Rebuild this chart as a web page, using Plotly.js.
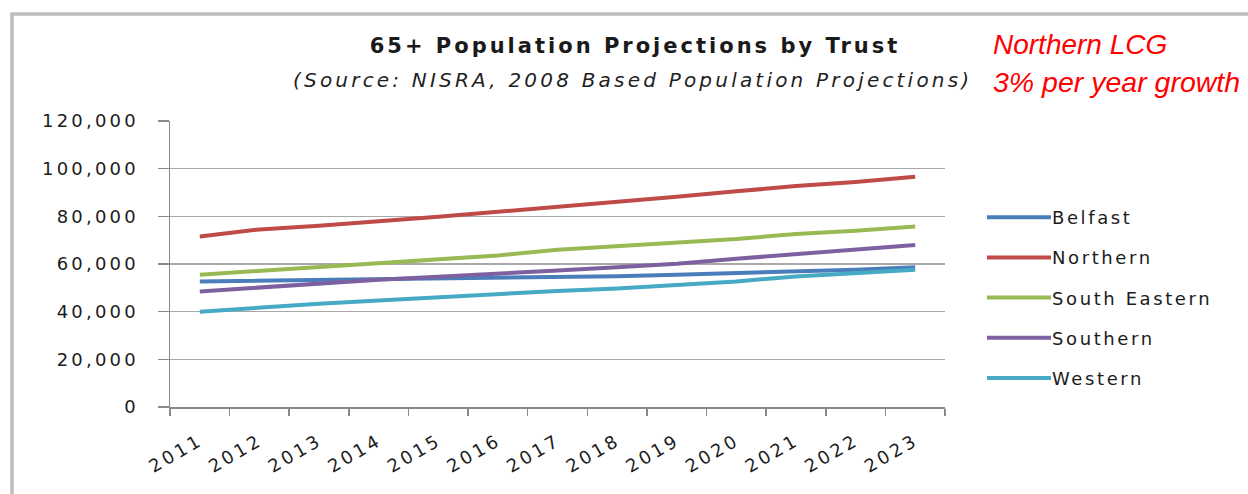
<!DOCTYPE html>
<html>
<head>
<meta charset="utf-8">
<script src="https://cdn.plot.ly/plotly-3.0.1.min.js"></script>
<style>
  html, body { margin: 0; padding: 0; background: #ffffff; }
  #chart { width: 1248px; height: 494px; }
  /* wide, spaced-out lettering for the chart texts */
  .xtick text, .ytick text { letter-spacing: 3.2px; }
  .gtitle { letter-spacing: 3px; }
  .legendtext { letter-spacing: 2.6px; }
  .annotation[data-index="0"] text { letter-spacing: 3.2px; }
</style>
</head>
<body>
<div id="chart"></div>
<script>
// Projected population aged 65+ by Health and Social Care Trust
const years = ['2011', '2012', '2013', '2014', '2015', '2016', '2017',
               '2018', '2019', '2020', '2021', '2022', '2023'];
const belfast      = [52700, 53000, 53400, 53700, 54000, 54200, 54300, 54900, 55500, 56200, 56700, 57600, 58600];
const northern     = [71500, 74500, 76000, 77800, 79800, 81900, 84000, 85700, 88200, 90500, 92700, 94400, 96600];
const southEastern = [55500, 57200, 58600, 60600, 62200, 63600, 66000, 67600, 69000, 70500, 72600, 73900, 75700];
const southern     = [48500, 50200, 51600, 53400, 54700, 56200, 57300, 58600, 60100, 62200, 64100, 66000, 68000];
const western      = [40000, 41800, 43300, 44700, 46100, 47200, 48700, 49700, 51100, 52700, 54800, 56200, 57600];

const trustNames = ['Belfast', 'Northern', 'South Eastern', 'Southern', 'Western'];
const trustValues = [belfast, northern, southEastern, southern, western];
const trustColors = ['#4a7ebb', '#be4b48', '#98b954', '#7d60a0', '#46aac5'];

const yTicks = [0, 20000, 40000, 60000, 80000, 100000, 120000];
const yTickLabels = ['0', '20,000', '40,000', '60,000', '80,000', '100,000', '120,000'];

const chartFont = 'DejaVu Sans, Verdana, sans-serif';
const textColor = '#1c1c1c';
const gridColor = '#a9a9a9';

const traces = trustNames.map((name, i) => ({
  type: 'scatter',
  mode: 'lines',
  name: name,
  legendgroup: name,
  x: years,
  y: trustValues[i],
  line: { color: trustColors[i], width: 4 },
  hoverinfo: 'x+y+name'
}));

const layout = {
  width: 1248,
  height: 494,
  margin: { l: 170, r: 303, t: 121, b: 87 },
  paper_bgcolor: '#ffffff',
  plot_bgcolor: '#ffffff',
  font: { family: chartFont, color: textColor, size: 17 },
  title: {
    text: '<b>65+ Population Projections by Trust</b>',
    font: { family: chartFont, size: 21, color: '#1a1a1a' },
    xref: 'container', x: 635 / 1248, xanchor: 'center',
    yref: 'container', y: 1 - 46 / 494, yanchor: 'middle'
  },
  xaxis: {
    type: 'category',
    range: [-0.5, 12.5],
    tickson: 'boundaries',
    ticks: 'outside', ticklen: 7, tickwidth: 1.5, tickcolor: '#8a8a8a',
    showline: true, linecolor: '#8a8a8a', linewidth: 1.5,
    showgrid: false,
    tickangle: -30,
    tickfont: { family: chartFont, size: 18, color: textColor },
    ticklabelstandoff: 15,
    fixedrange: true
  },
  yaxis: {
    range: [0, 120000],
    tickvals: yTicks,
    ticktext: yTickLabels,
    ticks: 'outside', ticklen: 11, tickwidth: 1.5, tickcolor: '#8a8a8a',
    showline: true, linecolor: '#8a8a8a', linewidth: 1.5,
    showgrid: true, gridcolor: gridColor, gridwidth: 1.5,
    zeroline: false,
    tickfont: { family: chartFont, size: 18, color: textColor },
    ticklabelstandoff: 15,
    fixedrange: true
  },
  showlegend: true,
  legend: {
    x: (982 - 170) / 775, xanchor: 'left',
    y: (407 - 199) / 286, yanchor: 'top',
    traceorder: 'grouped',
    tracegroupgap: 13.8,
    itemwidth: 60,
    font: { family: chartFont, size: 18, color: textColor },
    bgcolor: 'rgba(0,0,0,0)',
    borderwidth: 0
  },
  annotations: [
    {
      text: '<i>(Source: NISRA, 2008 Based Population Projections)</i>',
      xref: 'paper', yref: 'paper',
      x: (632 - 170) / 775, y: (407 - 80) / 286,
      xanchor: 'center', yanchor: 'middle',
      showarrow: false,
      font: { family: chartFont, size: 20, color: '#1f1f1f' }
    },
    {
      text: '<i>Northern LCG</i>',
      xref: 'paper', yref: 'paper',
      x: (991 - 170) / 775, y: (407 - 44) / 286,
      xanchor: 'left', yanchor: 'middle',
      showarrow: false,
      font: { family: 'Liberation Sans, Arial, sans-serif', size: 28, color: '#ff0000' }
    },
    {
      text: '<i>3% per year growth</i>',
      xref: 'paper', yref: 'paper',
      x: (991 - 170) / 775, y: (407 - 82) / 286,
      xanchor: 'left', yanchor: 'middle',
      showarrow: false,
      font: { family: 'Liberation Sans, Arial, sans-serif', size: 28.5, color: '#ff0000' }
    }
  ],
  shapes: [
    {
      // chart frame, open towards the right and bottom edges
      type: 'rect', xref: 'paper', yref: 'paper', layer: 'below',
      x0: (12 - 170) / 775, x1: (1300 - 170) / 775,
      y0: (407 - 560) / 286, y1: (407 - 14) / 286,
      line: { color: '#bdbdbd', width: 3.5 },
      fillcolor: 'rgba(0,0,0,0)'
    }
  ]
};

Plotly.newPlot('chart', traces, layout, { displayModeBar: false, staticPlot: true }).then(() => {
  // longer line samples in the legend, running right up to the labels
  document.querySelectorAll('#chart .legendlines path').forEach(p => {
    p.setAttribute('d', 'M5,0h64');
  });
});
</script>
</body>
</html>
